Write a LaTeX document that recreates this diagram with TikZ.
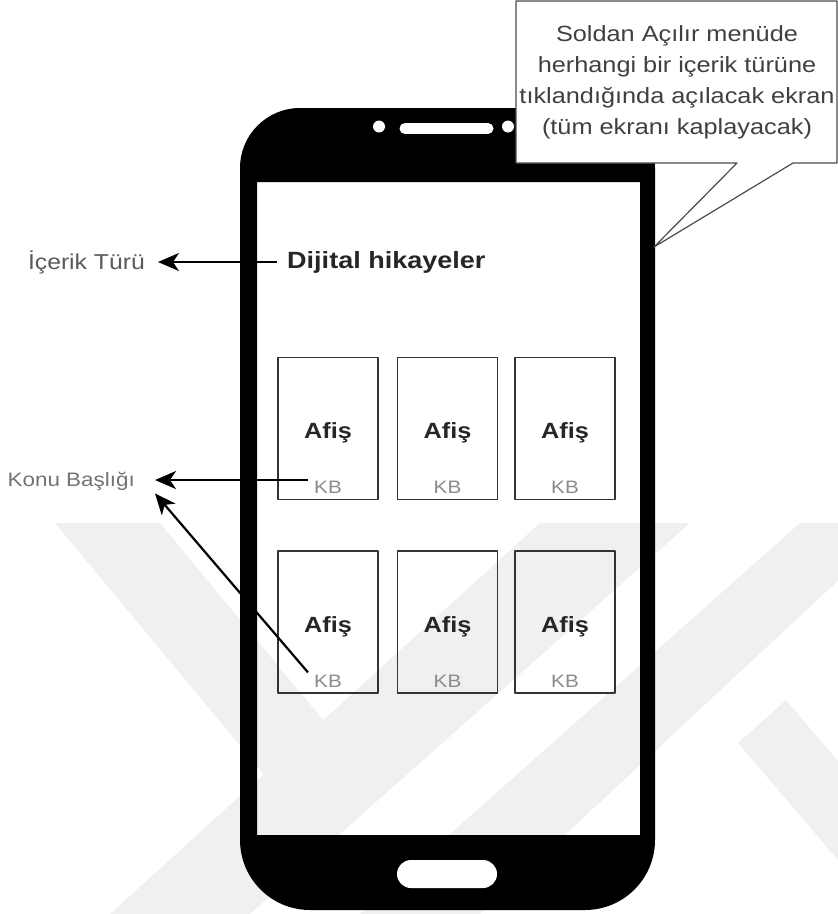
\documentclass[tikz,border=0pt]{standalone}
\usepackage{fontspec}
\setmainfont{Liberation Sans}[FakeStretch=1.15]
\usetikzlibrary{arrows.meta}
\definecolor{wmark}{HTML}{F0F0F0}
\definecolor{kbgray}{HTML}{8A8A8A}
\definecolor{lblgray}{HTML}{5A5A5A}
\definecolor{cardline}{HTML}{333333}
\begin{document}
\begin{tikzpicture}[x=1pt,y=-1pt,line join=round,
	arr/.style={-{Stealth[length=21pt,width=18pt,inset=6pt]},line width=2.2pt},
	card/.style={draw=cardline,line width=1.8pt,minimum width=100pt,minimum height=142pt,inner sep=0pt},
	afis/.style={font=\fontsize{22}{26}\selectfont\bfseries,text=black!85,anchor=base},
	kb/.style={font=\fontsize{18}{20}\selectfont,text=kbgray,anchor=base,inner xsep=6pt,inner ysep=2pt}]
	\useasboundingbox (0,0) rectangle (838,914);
	\begin{scope}
		\clip (0,523) rectangle (838,914);
		\fill[wmark] (55,523) -- (160,523) -- (323,720) -- (325,848) -- cycle;
		\fill[wmark] (540,523) -- (690,523) -- (250,914) -- (110,914) -- cycle;
		\fill[wmark] (800,523) -- (900,523) -- (480,914) -- (360,914) -- cycle;
		\fill[wmark] (738,743) -- (786,700) -- (920,857) -- (872,900) -- cycle;
	\end{scope}
	\fill[black,even odd rule] (448,108) [rounded corners=60pt] -- (655,108) -- (655,500) [rounded corners=70pt] -- (655,910) -- (240,910) -- (240,500) [rounded corners=60pt] -- (240,108) -- cycle
		[sharp corners] (257,182) rectangle (640,835);
	\draw[white,line width=11pt,line cap=round] (405,128.5) -- (488,128.5);
	\fill[white] (379,126.5) circle (6pt);
	\fill[white] (508,126.5) circle (6pt);
	\fill[white,rounded corners=14pt] (397,860) rectangle (497,888);
	\node[font=\fontsize{23.5}{28}\selectfont\bfseries,text=black!85,anchor=west,inner xsep=10pt] (dijital) at (277,262) {Dijital hikayeler};
	\node[font=\fontsize{21.5}{24}\selectfont,text=lblgray,anchor=east,inner xsep=13pt] (icerik) at (158,262) {İçerik Türü};
	\draw[arr] (dijital.west) -- (icerik.east);
	\foreach \row/\y in {1/428.5,2/622}{
		\foreach \col/\x in {1/328,2/447.5,3/565}{
			\node[card] (card\row\col) at (\x,\y) {};
			\node[afis] (afis\row\col) at (\x,\y+10) {Afiş};
			\node[kb] (kb\row\col) at (\x,\y+65) {KB};
		}
	}
	\node[font=\fontsize{19.5}{22}\selectfont,text=lblgray!85,anchor=east,inner xsep=20pt,inner ysep=3pt] (konu) at (155,481) {Konu Başlığı};
	\draw[arr] (kb11.160) -- (kb11.160 -| konu.east);
	\draw[arr] (kb21.north west) -- (konu.south east);
	\filldraw[fill=white,draw=black!70,line width=1.2pt] (516,1) -- (837,1) -- (837,163) -- (793,163) -- (654,247) -- (737,163) -- (516,163) -- cycle;
	\node[align=center,font=\fontsize{22}{31}\selectfont,text=black!75] (callout) at (677,82) {Soldan Açılır menüde\\herhangi bir içerik türüne\\tıklandığında açılacak ekran\\(tüm ekranı kaplayacak)};
\end{tikzpicture}
\end{document}
